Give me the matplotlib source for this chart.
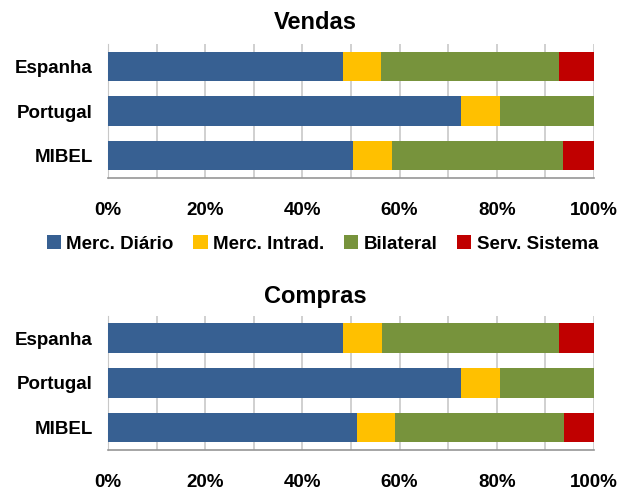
import numpy as np
import matplotlib
matplotlib.use("Agg")
import matplotlib.pyplot as plt
from matplotlib.patches import Patch

plt.rcParams['font.family'] = ['Liberation Sans', 'DejaVu Sans']
plt.rcParams['font.weight'] = 'bold'

# data (% of total)
categories = ['Espanha', 'Portugal', 'MIBEL']
series = ['Merc. Diário', 'Merc. Intrad.', 'Bilateral', 'Serv. Sistema']
colors = ['#376092', '#FFC000', '#77933C', '#C00000']

vendas_diario = [48.4, 72.6, 50.5]
vendas_intrad = [7.7, 8.1, 8.0]
vendas_bilateral = [36.8, 19.3, 35.2]
vendas_servsist = [7.1, 0.0, 6.3]

compras_diario = [48.4, 72.6, 51.2]
compras_intrad = [8.0, 8.1, 7.9]
compras_bilateral = [36.5, 19.3, 34.7]
compras_servsist = [7.1, 0.0, 6.2]

xticks = [0, 20, 40, 60, 80, 100]
xticklabels = ['0%', '20%', '40%', '60%', '80%', '100%']


def draw(ax, parts):
    y = np.arange(len(categories))
    left = np.zeros(len(categories))
    for vals, c in zip(parts, colors):
        vals = np.array(vals)
        ax.barh(y, vals, left=left, height=0.66, color=c, zorder=3)
        left += vals
    ax.set_xlim(0, 100)
    ax.set_ylim(len(categories) - 0.5, -0.5)
    ax.set_yticks(y)
    ax.set_yticklabels(categories, fontsize=13.5, fontweight='bold')
    ax.set_xticks(xticks)
    ax.set_xticklabels(xticklabels, fontsize=13.5, fontweight='bold')
    ax.set_xticks(np.arange(0, 101, 10), minor=True)
    ax.grid(True, axis='x', which='both', color='#C8C8C8', linewidth=1.2, zorder=0)
    ax.tick_params(axis='x', which='both', length=0, pad=17)
    ax.tick_params(axis='y', length=0, pad=11)
    ax.spines['top'].set_visible(False)
    ax.spines['right'].set_visible(False)
    ax.spines['left'].set_color('#C8C8C8')
    ax.spines['bottom'].set_color('#969696')
    ax.spines['bottom'].set_linewidth(1.2)


fig = plt.figure(figsize=(6.3, 4.9), dpi=100)

ax1 = fig.add_axes([0.1714, 0.6367, 0.7714, 0.2735])
draw(ax1, [vendas_diario, vendas_intrad, vendas_bilateral, vendas_servsist])

ax2 = fig.add_axes([0.1714, 0.0816, 0.7714, 0.2741])
draw(ax2, [compras_diario, compras_intrad, compras_bilateral, compras_servsist])

fig.text(0.5, 0.955, 'Vendas', ha='center', va='center', fontsize=17, fontweight='bold')
fig.text(0.5, 0.394, 'Compras', ha='center', va='center', fontsize=17, fontweight='bold')

handles = [Patch(facecolor=c, edgecolor='none') for c in colors]
fig.legend(handles, series, loc='center', bbox_to_anchor=(0.512, 0.502), ncol=4,
           frameon=False, handlelength=0.75, handleheight=0.75,
           handletextpad=0.3, columnspacing=1.05,
           prop={'weight': 'bold', 'size': 13.5})

fig.savefig('out.png', dpi=100)
